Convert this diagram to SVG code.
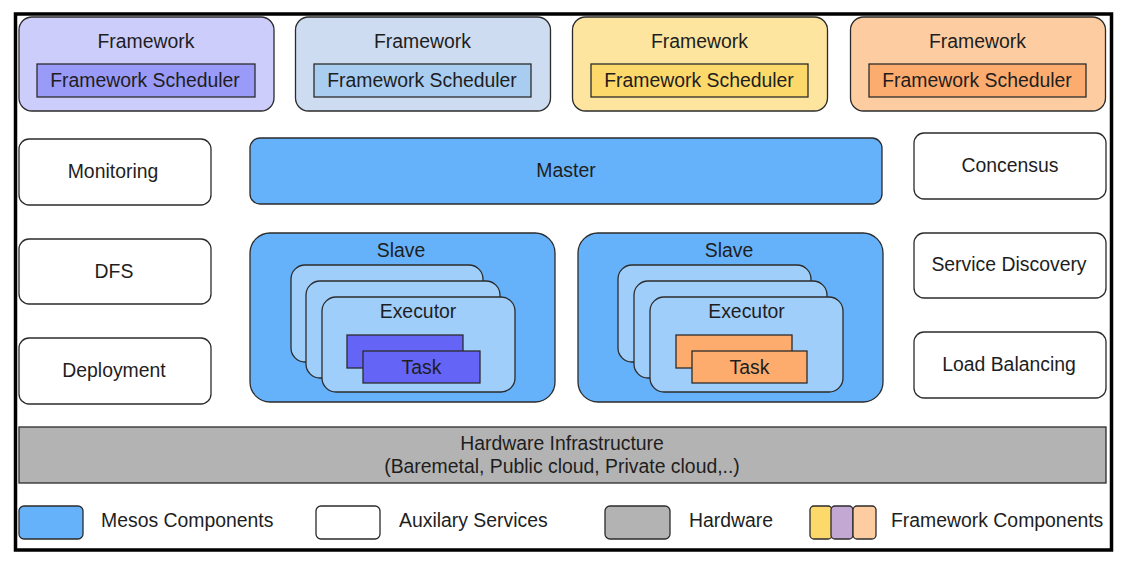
<svg xmlns="http://www.w3.org/2000/svg" width="1124" height="562" viewBox="0 0 1124 562">
<style>
text{font-family:"Liberation Sans",Arial,sans-serif;font-size:19.4px;fill:#1e1e1e;text-anchor:middle}
.s{stroke:#2b2b2b;stroke-width:1.3}
.aux{fill:#ffffff}
.mesos{fill:#66b2fa}
.exec{fill:#a0cefb}
.hw{fill:#b3b3b3}
.leg{text-anchor:start}
</style>
<rect x="0" y="0" width="1124" height="562" fill="#ffffff"/>
<rect x="15.5" y="14" width="1096" height="536" fill="#ffffff" stroke="#000" stroke-width="3.5"/>

<g id="fw1">
<rect class="s" x="19" y="17" width="255" height="94" rx="13" fill="#cdcdfb"/>
<rect class="s" x="37" y="64" width="218" height="33" fill="#9a9af8"/>
<text x="146" y="48">Framework</text>
<text x="145" y="87">Framework Scheduler</text>
</g>
<g id="fw2">
<rect class="s" x="295.5" y="17" width="255" height="94" rx="13" fill="#cddcf1"/>
<rect class="s" x="314" y="64" width="217" height="33" fill="#a9cdf1"/>
<text x="422.5" y="48">Framework</text>
<text x="422" y="87">Framework Scheduler</text>
</g>
<g id="fw3">
<rect class="s" x="572.5" y="17" width="255" height="94" rx="13" fill="#fde59f"/>
<rect class="s" x="591" y="64" width="217" height="33" fill="#fdd96b"/>
<text x="699.5" y="48">Framework</text>
<text x="699" y="87">Framework Scheduler</text>
</g>
<g id="fw4">
<rect class="s" x="850.5" y="17" width="255" height="94" rx="13" fill="#fdcda1"/>
<rect class="s" x="869" y="64" width="217" height="33" fill="#fdac6f"/>
<text x="977.5" y="48">Framework</text>
<text x="977" y="87">Framework Scheduler</text>
</g>

<g id="monitoring">
<rect class="s aux" x="19" y="139" width="192" height="66" rx="10"/>
<text x="113" y="178">Monitoring</text>
</g>
<g id="dfs">
<rect class="s aux" x="19" y="239" width="192" height="65" rx="10"/>
<text x="114" y="278">DFS</text>
</g>
<g id="deployment">
<rect class="s aux" x="19" y="338" width="192" height="66" rx="10"/>
<text x="114" y="377">Deployment</text>
</g>

<g id="master">
<rect class="s mesos" x="250" y="138" width="632" height="66" rx="10"/>
<text x="566" y="177">Master</text>
</g>

<g id="concensus">
<rect class="s aux" x="914" y="133" width="192" height="66" rx="10"/>
<text x="1010" y="172">Concensus</text>
</g>
<g id="servicediscovery">
<rect class="s aux" x="914" y="233" width="192" height="65" rx="10"/>
<text x="1009" y="271">Service Discovery</text>
</g>
<g id="loadbalancing">
<rect class="s aux" x="914" y="332" width="192" height="66" rx="10"/>
<text x="1009" y="371">Load Balancing</text>
</g>

<g id="slave1">
<rect class="s mesos" x="250" y="233" width="305" height="169" rx="20"/>
<text x="401" y="257">Slave</text>
<rect class="s exec" x="291" y="265" width="192" height="97" rx="14"/>
<rect class="s exec" x="306" y="281" width="194" height="97" rx="14"/>
<rect class="s exec" x="322" y="297" width="193" height="95" rx="14"/>
<text x="418" y="318">Executor</text>
<rect class="s" x="347" y="335" width="116" height="33" fill="#6464f6"/>
<rect class="s" x="363" y="351" width="117" height="32" fill="#6464f6"/>
<text x="421.5" y="374">Task</text>
</g>

<g id="slave2">
<rect class="s mesos" x="578" y="233" width="305" height="169" rx="20"/>
<text x="729" y="257">Slave</text>
<rect class="s exec" x="618" y="265" width="193" height="97" rx="14"/>
<rect class="s exec" x="634" y="281" width="193" height="97" rx="14"/>
<rect class="s exec" x="650" y="297" width="193" height="95" rx="14"/>
<text x="746.5" y="318">Executor</text>
<rect class="s" x="676" y="335" width="116" height="33" fill="#fdac6d"/>
<rect class="s" x="692" y="351" width="115" height="32" fill="#fdac6d"/>
<text x="749.5" y="374">Task</text>
</g>

<g id="hardware">
<rect class="s hw" x="19" y="427" width="1087" height="56"/>
<text x="562" y="450">Hardware Infrastructure</text>
<text x="562" y="473">(Baremetal, Public cloud, Private cloud,..)</text>
</g>

<g id="legend">
<rect class="s mesos" x="19" y="506" width="64" height="33" rx="5"/>
<text class="leg" x="101" y="527">Mesos Components</text>
<rect class="s aux" x="316" y="506" width="64" height="33" rx="5"/>
<text class="leg" x="399" y="527">Auxilary Services</text>
<rect class="s hw" x="605" y="506" width="65" height="33" rx="5"/>
<text class="leg" x="689" y="527">Hardware</text>
<rect class="s" x="810" y="506" width="22" height="33" rx="4" fill="#fdd96b"/>
<rect class="s" x="831" y="506" width="22" height="33" rx="4" fill="#c3a8d4"/>
<rect class="s" x="853" y="506" width="23" height="33" rx="4" fill="#fdcda1"/>
<text class="leg" x="891" y="527">Framework Components</text>
</g>

<g id="connectors"></g>
</svg>
